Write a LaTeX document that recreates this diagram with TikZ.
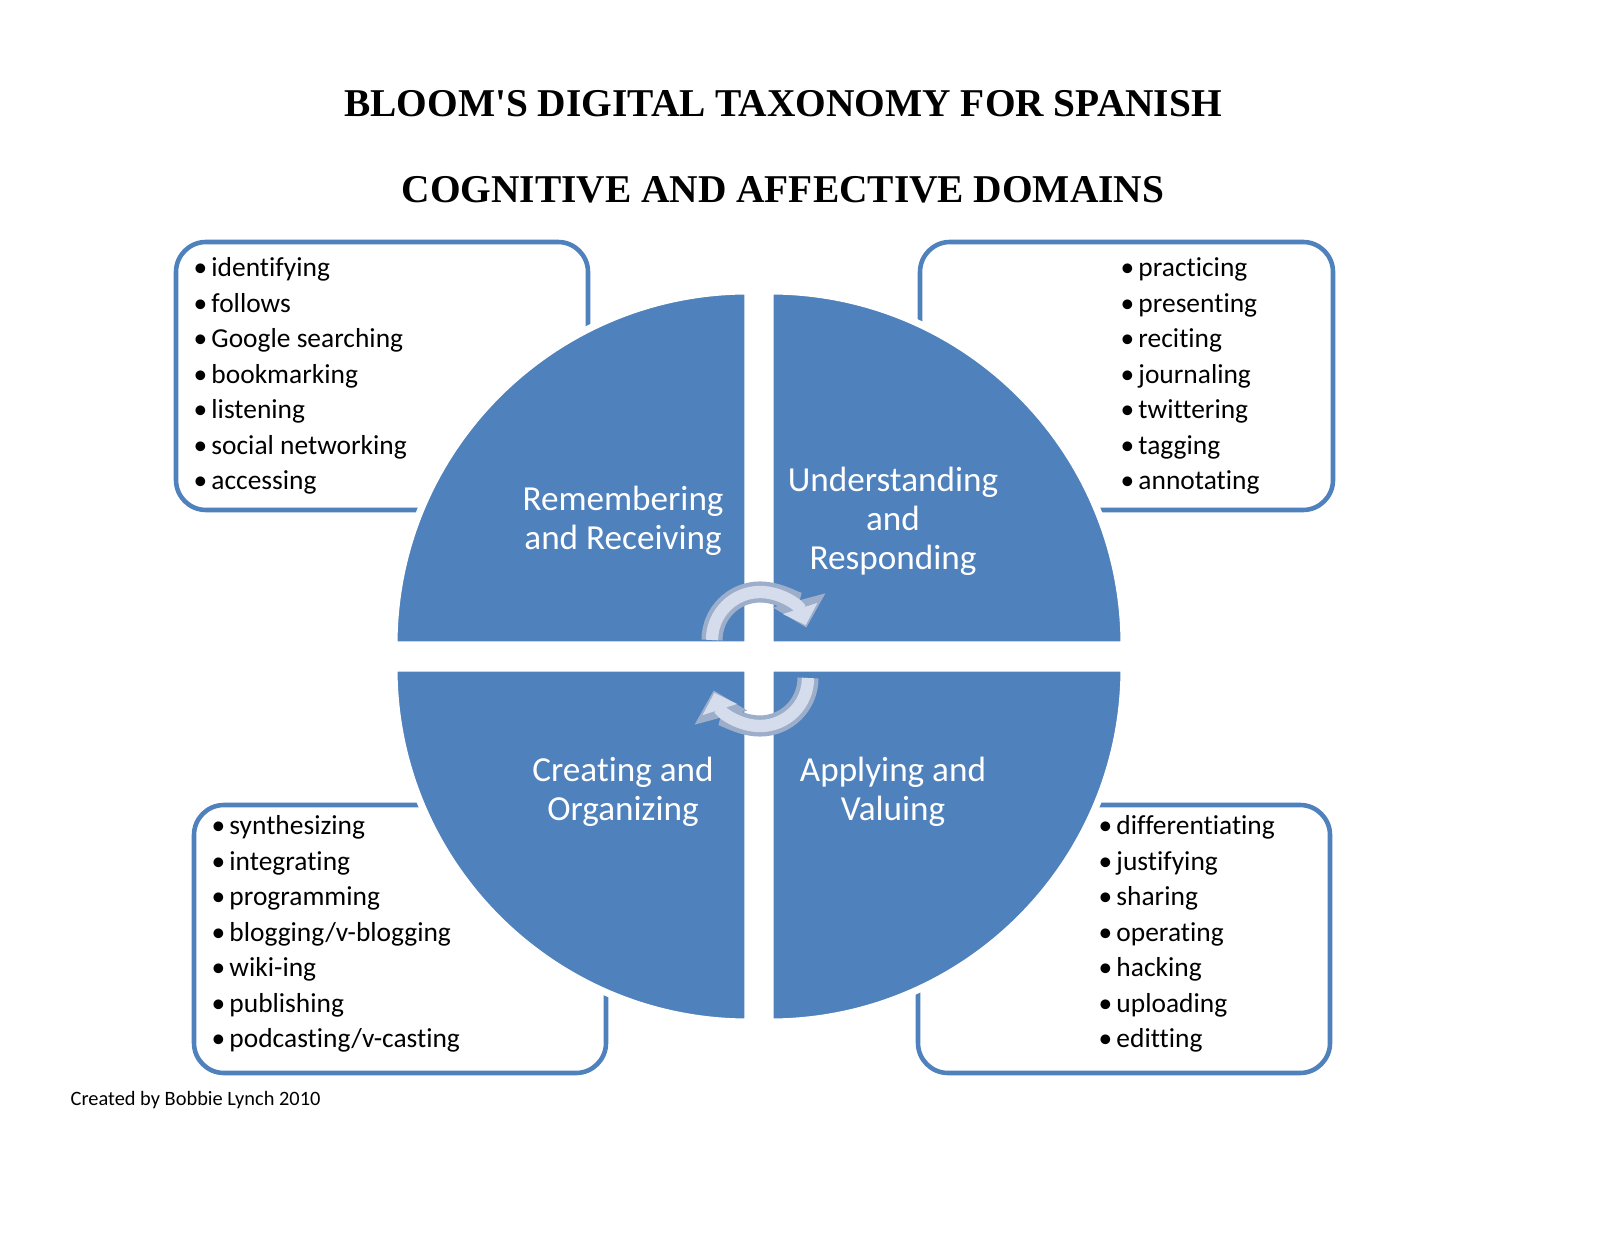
\documentclass[tikz,border=0pt]{standalone}
\usepackage{fontspec}
\setmainfont{Carlito}[RawFeature=-liga]
\newfontfamily\titlefont{Liberation Serif}
\usetikzlibrary{arrows.meta}
\definecolor{qblue}{HTML}{4F81BD}
\definecolor{bborder}{HTML}{4F81BD}
\definecolor{arfill}{HTML}{D5DDEC}
\definecolor{arline}{HTML}{9DAECB}
\newcommand{\bl}{•\hspace{0.15em}}
\tikzset{
 quad/.style={fill=qblue,draw=white,line width=2pt},
 listbox/.style={draw=bborder,line width=1.3pt,rounded corners=0.3cm,fill=white},
 items/.style={anchor=north west,align=left,inner sep=0pt,font=\fontsize{7.8}{10.1}\selectfont},
 qlabel/.style={text=white,align=center,font=\fontsize{10}{11.1}\selectfont},
 titletext/.style={font=\titlefont\bfseries\fontsize{11.2}{14}\selectfont},
 cyc/.style={line width=6pt,draw=arline,-{Triangle[width=15pt,length=8pt]}},
 cycin/.style={line width=3.5pt,draw=arfill,-{Triangle[width=10pt,length=5pt]}}
}
\begin{document}
\begin{tikzpicture}[x=0.01cm,y=0.01cm]
\useasboundingbox (0,0) rectangle (1600,1236);
\fill[white] (0,0) rectangle (1600,1236);
% title
\node[titletext] (t1) at (783,1132) {BLOOM'S DIGITAL TAXONOMY FOR SPANISH};
\node[titletext] (t2) at (783,1046) {COGNITIVE AND AFFECTIVE DOMAINS};
% boxes
\draw[listbox] (176,726) rectangle (588,994);
\draw[listbox] (920,726) rectangle (1333,994);
\draw[listbox] (194,163) rectangle (606,431);
\draw[listbox] (918,163) rectangle (1330,431);
% quadrants
\draw[quad] (748,591) -- ++(-354,0) arc[start angle=180,end angle=90,radius=354] -- cycle;
\draw[quad] (770,591) -- ++(0,354) arc[start angle=90,end angle=0,radius=354] -- cycle;
\draw[quad] (770,568) -- ++(354,0) arc[start angle=0,end angle=-90,radius=354] -- cycle;
\draw[quad] (748,568) -- ++(0,-354) arc[start angle=270,end angle=180,radius=354] -- cycle;
% lists
\node[items] (l1) at (193,979) {\bl identifying\\\bl follows\\\bl Google searching\\\bl bookmarking\\\bl listening\\\bl social networking\\\bl accessing};
\node[items] (l2) at (1120,979) {\bl practicing\\\bl presenting\\\bl reciting\\\bl journaling\\\bl twittering\\\bl tagging\\\bl annotating};
\node[items] (l3) at (211,421) {\bl synthesizing\\\bl integrating\\\bl programming\\\bl blogging/v-blogging\\\bl wiki-ing\\\bl publishing\\\bl podcasting/v-casting};
\node[items] (l4) at (1098,421) {\bl differentiating\\\bl justifying\\\bl sharing\\\bl operating\\\bl hacking\\\bl uploading\\\bl editting};
% quadrant labels
\node[qlabel] (q1) at (623,715) {Remembering\\and Receiving};
\node[qlabel] (q2) at (893,715) {Understanding\\and\\Responding};
\node[qlabel] (q3) at (623,444) {Creating and\\Organizing};
\node[qlabel] (q4) at (893,444) {Applying and\\Valuing};
% cycle arrows
\draw[cyc] (760,596) ++(180:48) arc[start angle=180,end angle=15,radius=48];
\draw[cycin] (760,596) ++(180:48) arc[start angle=180,end angle=18,radius=48];
\draw[cyc] (760,558) ++(0:48) arc[start angle=0,end angle=-165,radius=48];
\draw[cycin] (760,558) ++(0:48) arc[start angle=0,end angle=-162,radius=48];
% footer
\node[anchor=west,inner sep=0pt,font=\fontsize{5.8}{7}\selectfont] (f) at (70,136) {Created by Bobbie Lynch 2010};
\end{tikzpicture}
\end{document}
